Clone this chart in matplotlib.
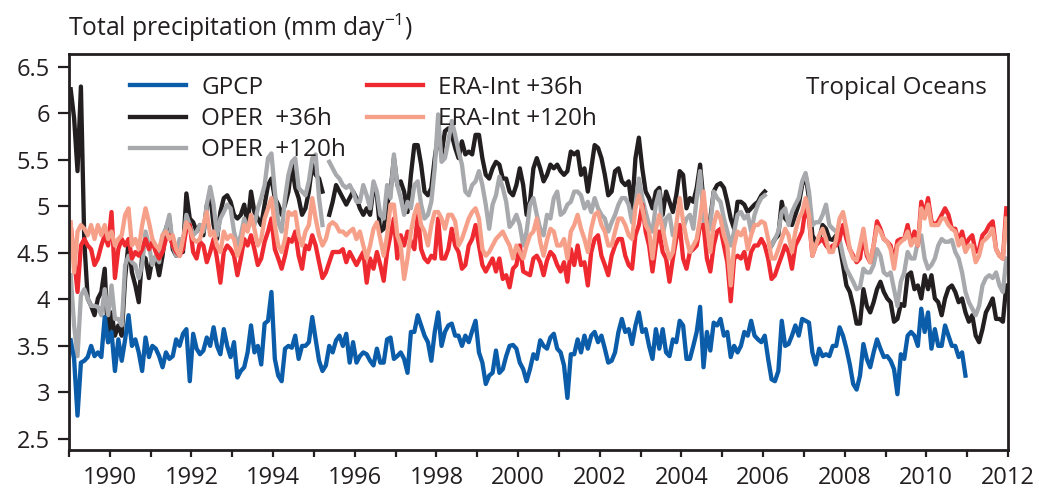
import numpy as np
import matplotlib
matplotlib.use('Agg')
import matplotlib.pyplot as plt

plt.rcParams['font.family'] = ['Open Sans', 'DejaVu Sans']
plt.rcParams['mathtext.fontset'] = 'custom'
plt.rcParams['mathtext.rm'] = 'Open Sans'
plt.rcParams['mathtext.default'] = 'regular'
plt.rcParams['text.color'] = '#231f20'

nan = np.nan

# monthly means, Jan 1989 onward (mm/day)
gpcp = [
    3.56, 3.36, 2.75, 3.32, 3.34, 3.38, 3.50, 3.39, 3.43, 3.38, 3.81, 3.54,
    3.65, 3.23, 3.57, 3.34, 3.57, 3.83, 3.50, 3.57, 3.43, 3.23, 3.59, 3.38,
    3.50, 3.47, 3.39, 3.27, 3.43, 3.36, 3.39, 3.57, 3.50, 3.63, 3.68, 3.12,
    3.63, 3.47, 3.41, 3.45, 3.59, 3.50, 3.70, 3.50, 3.41, 3.68, 3.50, 3.38,
    3.54, 3.16, 3.23, 3.27, 3.43, 3.72, 3.43, 3.50, 3.30, 3.74, 3.77, 4.08,
    3.36, 3.18, 3.12, 3.47, 3.50, 3.48, 3.61, 3.36, 3.50, 3.50, 3.54, 3.81,
    3.57, 3.34, 3.23, 3.29, 3.50, 3.43, 3.56, 3.61, 3.50, 3.63, 3.32, 3.54,
    3.32, 3.39, 3.43, 3.41, 3.34, 3.29, 3.47, 3.32, 3.32, 3.57, 3.59, 3.36,
    3.39, 3.43, 3.36, 3.21, 3.65, 3.65, 3.83, 3.72, 3.61, 3.54, 3.34, 3.65,
    3.86, 3.50, 3.65, 3.72, 3.74, 3.61, 3.61, 3.50, 3.61, 3.54, 3.66, 3.77,
    3.43, 3.32, 3.09, 3.18, 3.21, 3.45, 3.21, 3.25, 3.39, 3.50, 3.51, 3.47,
    3.32, 3.25, 3.12, 3.25, 3.41, 3.36, 3.56, 3.50, 3.47, 3.59, 3.63, 3.47,
    3.43, 3.29, 2.94, 3.41, 3.41, 3.57, 3.43, 3.61, 3.47, 3.61, 3.65, 3.54,
    3.61, 3.47, 3.32, 3.34, 3.43, 3.65, 3.79, 3.65, 3.68, 3.52, 3.72, 3.86,
    3.65, 3.68, 3.50, 3.36, 3.68, 3.47, 3.68, 3.43, 3.39, 3.57, 3.54, 3.77,
    3.72, 3.36, 3.36, 3.50, 3.65, 3.92, 3.27, 3.65, 3.45, 3.75, 3.72, 3.79,
    3.61, 3.65, 3.38, 3.50, 3.43, 3.50, 3.65, 3.61, 3.77, 3.61, 3.57, 3.54,
    3.61, 3.36, 3.14, 3.12, 3.23, 3.77, 3.50, 3.52, 3.61, 3.72, 3.61, 3.79,
    3.77, 3.75, 3.43, 3.30, 3.47, 3.39, 3.41, 3.39, 3.50, 3.50, 3.70, 3.61,
    3.47, 3.30, 3.09, 3.03, 3.18, 3.52, 3.36, 3.27, 3.43, 3.57, 3.47, 3.38,
    3.39, 3.34, 3.25, 2.98, 3.41, 3.36, 3.61, 3.65, 3.61, 3.50, 3.90, 3.65,
    3.86, 3.47, 3.68, 3.50, 3.50, 3.72, 3.61, 3.50, 3.50, 3.38, 3.43, 3.18,
]

oper36 = [
    6.26, 5.95, 5.38, 6.29, 4.62, 4.01, 3.93, 3.83, 4.01, 4.08, 4.33, 3.54,
    3.86, 3.61, 3.72, 3.61, 4.23, 4.62, 4.29, 4.15, 3.97, 4.47, 4.44, 4.23,
    4.44, 4.44, 4.26, 4.47, 4.76, 4.87, 4.54, 4.47, 4.54, 4.51, 5.14, 4.87,
    4.83, 4.73, 4.80, 4.69, 5.01, 5.12, 4.80, 4.65, 4.94, 5.09, 5.12, 5.05,
    4.91, 4.87, 4.91, 5.02, 4.80, 5.16, 4.94, 4.87, 4.80, 5.02, 5.23, 5.30,
    5.09, 5.02, 4.91, 5.02, 5.16, 5.45, 5.20, 5.09, 4.91, 4.98, 5.16, 5.45,
    5.34, 5.30, 5.16, nan, 4.91, 5.05, 5.23, 5.16, 5.09, 5.02, 5.09, 5.16,
    5.09, 4.98, 4.91, 4.98, 4.91, 5.20, 5.12, 4.73, 4.76, 5.02, 5.16, 5.52,
    5.23, 5.27, 5.16, 4.94, 5.34, 5.66, 5.66, 5.45, 5.16, 5.12, 5.20, 5.52,
    5.77, 5.56, 5.81, 5.84, 5.77, 5.63, 5.52, 5.70, 5.56, 5.59, 5.56, 5.77,
    5.77, 5.52, 5.34, 5.30, 5.41, 5.48, 5.45, 5.30, 5.30, 5.16, 5.12, 5.23,
    5.41, 5.23, 4.91, 5.05, 5.41, 5.52, 5.41, 5.27, 5.34, 5.45, 5.41, 5.45,
    5.38, 5.34, 5.38, 5.59, 5.56, 5.59, 5.34, 5.41, 5.16, 5.41, 5.66, 5.63,
    5.52, 5.34, 5.12, 5.16, 5.38, 5.41, 5.27, 5.23, 5.27, 4.98, 5.52, 5.74,
    5.41, 5.16, 5.09, 4.98, 5.16, 5.20, 4.91, 5.16, 5.05, 4.94, 5.12, 5.38,
    5.34, 4.98, 5.09, 5.05, 5.20, 5.45, 5.05, 4.76, 4.87, 5.16, 5.23, 5.25,
    5.20, 5.05, 4.87, 4.76, 5.05, 5.05, 5.02, 4.94, 4.98, 5.02, 5.05, 5.12,
    5.16, nan, 4.58, 4.65, 4.69, 5.05, 4.87, 4.83, 4.80, 4.91, 5.02, 5.23,
    5.34, 5.09, 4.69, 4.62, 4.65, 4.80, 4.76, 4.65, 4.64, 4.69, 4.58, 4.37,
    4.15, 4.08, 3.93, 3.74, 3.74, 4.11, 3.93, 3.86, 3.97, 4.11, 4.19, 4.08,
    4.01, 3.97, 3.76, 3.79, 3.95, 3.93, 4.26, 4.29, 4.11, 4.15, 4.01, 4.26,
    4.11, 4.26, 4.01, 3.97, 3.83, 4.01, 4.12, 4.15, 4.08, 3.97, 4.01, 3.86,
    3.76, 3.83, 3.61, 3.54, 3.68, 3.86, 3.93, 4.01, 3.79, 3.79, 3.76, 4.15,
]

oper120 = [
    4.26, 3.72, 3.39, 4.04, 4.11, 4.01, 3.93, 3.93, 3.92, 3.83, 4.11, 3.83,
    4.15, 3.79, 3.79, 3.72, 4.37, 4.47, 4.40, 4.37, 4.23, 4.37, 4.73, 4.58,
    4.37, 4.47, 4.40, 4.69, 4.76, 4.91, 4.58, 4.47, 4.65, 4.58, 4.91, 4.80,
    4.69, 4.73, 4.80, 4.73, 5.02, 5.21, 5.02, 4.69, 4.87, 4.94, 5.02, 4.98,
    4.73, 4.58, 4.69, 4.87, 4.76, 4.83, 4.80, 4.98, 5.09, 5.23, 5.52, 5.57,
    5.16, 4.83, 4.73, 5.09, 5.34, 5.48, 5.52, 5.20, 5.16, 5.12, 5.27, 5.52,
    5.56, 5.09, 4.80, nan, 5.48, 5.41, 5.34, 5.30, 5.23, 5.20, 5.23, 5.16,
    5.05, 5.05, 5.23, 5.12, 4.98, 5.27, 5.16, 4.91, 4.87, 5.23, 5.09, 5.56,
    5.23, 5.09, 4.91, 5.05, 4.98, 5.23, 5.27, 5.02, 4.87, 4.91, 5.05, 5.41,
    5.99, 5.48, 5.52, 5.70, 5.92, 5.77, 5.59, 5.45, 5.16, 5.12, 5.23, 5.27,
    5.38, 5.23, 5.02, 4.76, 5.02, 5.12, 5.32, 5.20, 5.05, 4.78, 4.83, 4.91,
    4.80, 4.58, 4.73, 5.02, 5.09, 4.91, 4.76, 4.69, 4.91, 4.87, 5.09, 5.16,
    4.91, 4.94, 5.02, 5.05, 5.16, 5.16, 5.12, 4.98, 5.05, 4.94, 5.09, 4.98,
    4.91, 4.87, 4.73, 4.83, 4.91, 5.02, 5.09, 5.09, 5.02, 4.83, 5.02, 5.30,
    5.09, 4.94, 4.80, 4.73, 5.02, 5.16, 4.69, 4.87, 4.91, 4.69, 4.73, 4.80,
    4.76, 4.87, 4.91, 4.76, 5.09, 5.38, 4.87, 4.69, 4.80, 5.16, 5.09, 5.05,
    4.87, 4.73, 4.58, 4.73, 4.91, 4.94, 4.87, 4.91, 4.73, 4.91, 5.02, 5.09,
    5.12, nan, 4.58, 4.65, 4.73, 4.94, 4.98, 4.80, 4.94, 5.02, 5.09, 5.27,
    5.36, 5.16, 4.80, 4.83, 4.83, 4.91, 5.02, 4.80, 4.76, 4.73, 4.65, 4.47,
    4.33, 4.26, 4.19, 4.11, 4.13, 4.33, 4.29, 4.29, 4.37, 4.54, 4.47, 4.29,
    4.26, 4.29, 4.11, 3.93, 4.19, 4.29, 4.51, 4.44, 4.44, 4.62, 4.69, 4.44,
    4.33, 4.37, 4.44, 4.58, 4.65, 4.62, 4.62, 4.64, 4.51, 4.44, 4.29, 4.08,
    3.97, 3.90, 3.83, 3.93, 4.15, 4.23, 4.26, 4.23, 4.29, 4.15, 4.08, 4.44,
]

era36 = [
    4.80, 4.44, 4.08, 4.58, 4.65, 4.58, 4.54, 4.37, 4.44, 4.58, 4.69, 4.58,
    4.94, 4.23, 4.54, 4.65, 4.58, 4.65, 4.44, 4.51, 4.47, 4.54, 4.65, 4.54,
    4.62, 4.51, 4.44, 4.51, 4.65, 4.69, 4.58, 4.51, 4.47, 4.54, 4.76, 4.80,
    4.51, 4.44, 4.62, 4.58, 4.40, 4.51, 4.65, 4.44, 4.18, 4.51, 4.58, 4.54,
    4.47, 4.26, 4.44, 4.65, 4.58, 4.69, 4.54, 4.37, 4.44, 4.62, 4.73, 4.87,
    4.54, 4.44, 4.33, 4.47, 4.65, 4.62, 4.73, 4.47, 4.33, 4.58, 4.54, 4.69,
    4.58, 4.40, 4.23, 4.29, 4.40, 4.51, 4.51, 4.51, 4.54, 4.40, 4.51, 4.44,
    4.37, 4.44, 4.51, 4.18, 4.44, 4.33, 4.51, 4.37, 4.20, 4.51, 4.69, 4.87,
    4.44, 4.69, 4.58, 4.73, 4.62, 4.54, 4.91, 4.54, 4.44, 4.40, 4.47, 4.44,
    4.87, 4.44, 4.44, 4.54, 4.76, 4.58, 4.51, 4.33, 4.37, 4.58, 4.65, 4.80,
    4.58, 4.37, 4.30, 4.37, 4.44, 4.30, 4.44, 4.22, 4.26, 4.13, 4.33, 4.37,
    4.58, 4.30, 4.28, 4.26, 4.44, 4.47, 4.40, 4.26, 4.42, 4.51, 4.47, 4.37,
    4.30, 4.40, 4.19, 4.54, 4.37, 4.58, 4.37, 4.40, 4.15, 4.51, 4.65, 4.69,
    4.47, 4.37, 4.26, 4.47, 4.58, 4.65, 4.65, 4.47, 4.37, 4.33, 4.69, 4.80,
    5.02, 4.73, 4.58, 4.30, 4.58, 4.73, 4.51, 4.44, 4.19, 4.44, 4.65, 4.80,
    4.44, 4.33, 4.51, 4.54, 4.58, 4.80, 4.80, 4.44, 4.30, 4.58, 4.73, 4.76,
    4.58, 4.40, 3.98, 4.44, 4.47, 4.44, 4.51, 4.33, 4.51, 4.58, 4.58, 4.65,
    4.58, 4.44, 4.22, 4.26, 4.37, 4.47, 4.58, 4.51, 4.33, 4.58, 4.65, 4.73,
    4.98, 4.87, 4.47, 4.58, 4.62, 4.65, 4.58, 4.54, 4.58, 4.58, 4.65, 4.80,
    4.65, 4.54, 4.47, 4.40, 4.44, 4.69, 4.47, 4.40, 4.58, 4.84, 4.76, 4.65,
    4.62, 4.58, 4.40, 4.63, 4.65, 4.65, 4.80, 4.60, 4.73, 4.58, 5.05, 4.91,
    5.09, 4.84, 4.80, 4.84, 4.91, 4.98, 4.91, 4.76, 4.76, 4.62, 4.73, 4.58,
    4.65, 4.69, 4.51, 4.54, 4.69, 4.73, 4.80, 4.84, 4.54, 4.47, 4.44, 4.98,
]

era120 = [
    4.83, 4.29, 4.73, 4.80, 4.76, 4.69, 4.80, 4.65, 4.80, 4.69, 4.80, 4.65,
    4.73, 4.58, 4.65, 4.69, 4.91, 4.98, 4.58, 4.65, 4.54, 4.80, 4.98, 4.83,
    4.65, 4.58, 4.54, 4.69, 4.73, 4.65, 4.69, 4.54, 4.47, 4.65, 4.83, 4.76,
    4.65, 4.62, 4.65, 4.80, 4.94, 4.69, 4.73, 4.58, 4.51, 4.73, 4.65, 4.69,
    4.65, 4.47, 4.58, 4.80, 4.73, 4.91, 4.76, 4.58, 4.65, 4.87, 4.98, 5.09,
    4.80, 4.58, 4.51, 4.65, 4.94, 4.91, 4.94, 4.69, 4.58, 4.73, 4.80, 5.09,
    4.87, 4.69, 4.58, 4.65, 4.80, 4.83, 4.80, 4.73, 4.73, 4.69, 4.73, 4.76,
    4.65, 4.73, 4.58, 4.44, 4.58, 4.76, 4.83, 4.65, 4.47, 4.69, 5.02, 5.02,
    4.69, 4.58, 4.22, 4.44, 4.73, 4.91, 5.02, 4.80, 4.73, 4.58, 4.80, 4.94,
    4.94, 4.87, 4.76, 4.91, 4.91, 4.84, 4.58, 4.65, 4.76, 4.87, 4.94, 4.98,
    4.87, 4.54, 4.47, 4.51, 4.58, 4.65, 4.69, 4.73, 4.65, 4.58, 4.44, 4.58,
    4.51, 4.44, 4.58, 4.69, 4.73, 4.87, 4.62, 4.47, 4.64, 4.76, 4.73, 4.58,
    4.58, 4.65, 4.44, 4.73, 4.80, 4.91, 4.76, 4.65, 4.51, 4.76, 4.91, 4.94,
    4.80, 4.73, 4.58, 4.58, 4.73, 4.87, 4.87, 4.80, 4.69, 4.65, 4.98, 5.12,
    4.98, 4.80, 4.73, 4.44, 4.76, 4.91, 4.76, 4.58, 4.44, 4.51, 4.80, 5.09,
    4.84, 4.65, 4.51, 4.58, 4.65, 4.87, 5.16, 4.80, 4.51, 4.80, 4.94, 4.87,
    4.69, 4.58, 4.15, 4.58, 4.73, 4.69, 4.76, 4.54, 4.69, 4.80, 4.80, 4.84,
    4.82, 4.65, 4.44, 4.44, 4.54, 4.65, 4.76, 4.69, 4.51, 4.73, 4.87, 4.94,
    5.09, 4.91, 4.47, 4.58, 4.69, 4.76, 4.65, 4.51, 4.51, 4.65, 4.87, 4.94,
    4.76, 4.54, 4.44, 4.42, 4.58, 4.76, 4.51, 4.40, 4.58, 4.78, 4.73, 4.65,
    4.62, 4.54, 4.33, 4.58, 4.62, 4.65, 4.73, 4.58, 4.65, 4.58, 4.98, 4.87,
    5.02, 4.80, 4.80, 4.80, 4.87, 4.87, 4.80, 4.76, 4.73, 4.58, 4.65, 4.51,
    4.58, 4.58, 4.40, 4.47, 4.62, 4.65, 4.69, 4.76, 4.54, 4.47, 4.44, 4.87,
]

years = list(range(1989, 2013))
yticks = [2.5, 3, 3.5, 4, 4.5, 5, 5.5, 6, 6.5]
ytick_labels = ['2.5', '3', '3.5', '4', '4.5', '5', '5.5', '6', '6.5']


def months(v):
    return 1989 + (np.arange(len(v)) + 0.5) / 12.0


fig = plt.figure(figsize=(10.39, 4.88), dpi=100)
ax = fig.add_axes([69 / 1039, 1 - 450 / 488, 939 / 1039, 396 / 488])

lw = 3.1
l_op36, = ax.plot(months(oper36), oper36, color='#231f20', lw=lw, label='OPER  +36h')
l_op120, = ax.plot(months(oper120), oper120, color='#a7a9ac', lw=lw, label='OPER  +120h')
l_era36, = ax.plot(months(era36), era36, color='#ee2a30', lw=lw, label='ERA-Int +36h')
l_era120, = ax.plot(months(era120), era120, color='#f6a08a', lw=lw, label='ERA-Int +120h')
l_gpcp, = ax.plot(months(gpcp), gpcp, color='#0b5ca9', lw=lw, label='GPCP')

ax.set_xlim(1989, 2012)
ax.set_ylim(2.38, 6.64)
ax.set_xticks(years)
ax.set_xticklabels([str(y) if y % 2 == 0 else '' for y in years])
ax.set_yticks(yticks)
ax.set_yticklabels(ytick_labels)

for s in ax.spines.values():
    s.set_linewidth(2)
    s.set_color('#231f20')
ax.tick_params(axis='both', direction='out', width=1.6, color='#231f20',
               labelsize=17, labelcolor='#231f20', pad=6)
ax.tick_params(axis='y', length=7.7)
ax.tick_params(axis='x', length=5.2)

leg_kw = dict(loc='upper left', frameon=False, fontsize=17.5, handlelength=2.3,
              handletextpad=0.62, labelspacing=0.3, borderpad=0, borderaxespad=0)
leg1 = ax.legend(handles=[l_gpcp, l_op36, l_op120], bbox_to_anchor=(0.065, 0.945), **leg_kw)
ax.add_artist(leg1)
ax.legend(handles=[l_era36, l_era120], bbox_to_anchor=(0.3174, 0.945), **leg_kw)

ax.text(0.9776, 0.914, 'Tropical Oceans', transform=ax.transAxes,
        ha='right', va='center', fontsize=17.5)

fig.text(68 / 1039, 1 - 28 / 488, 'Total precipitation (mm day$^{-1}$)',
         ha='left', va='center', fontsize=17.7)

fig.savefig('out.png', dpi=100)
